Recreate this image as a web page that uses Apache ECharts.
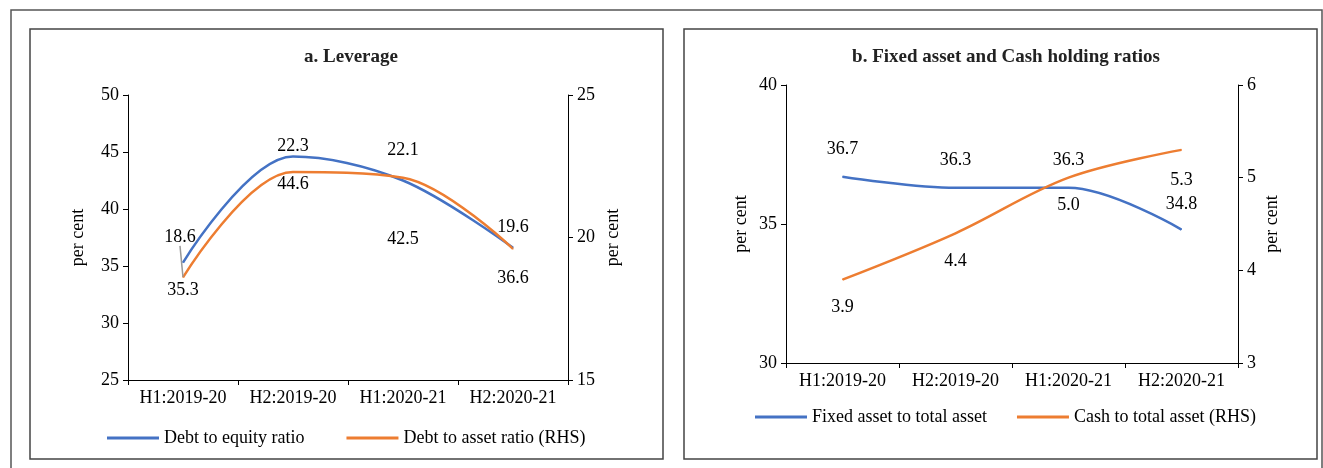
<!DOCTYPE html>
<html>
<head>
<meta charset="utf-8">
<script src="https://cdn.jsdelivr.net/npm/echarts@6/dist/echarts.min.js"></script>
<style>
    html, body {margin: 0; padding: 0; background: #fff;}
    #main {width: 1323px; height: 468px;}
</style>
</head>
<body>
<div id="main"></div>
<script>
// categories (both panels)
var halves = ['H1:2019-20', 'H2:2019-20', 'H1:2020-21', 'H2:2020-21'];

// panel a: leverage
var debtToEquity = [35.3, 44.6, 42.5, 36.6];
var debtToAsset = [18.6, 22.3, 22.1, 19.6];   // RHS

// panel b: fixed asset and cash holding
var fixedToTotal = [36.7, 36.3, 36.3, 34.8];
var cashToTotal = [3.9, 4.4, 5.0, 5.3];       // RHS

// label nudges [dx, dy] per point, by series order
var labelShift = [
    [[0, 0], [0, 0], [0, 31], [0, 3]],
    [[-3, -13], [0, 2], [0, 0], [0, 6]],
    [[0, 0], [0, 0], [0, 0], [0, 2]],
    [[0, 0], [0, 0], [0, 0], [0, 3]]
];

var BLUE = '#4472C4', ORANGE = '#ED7D31';
var FONT = '"Liberation Serif", "Times New Roman", serif';

function yAxis(grid, pos, min, max, step, gap) {
    return {
        type: 'value', gridIndex: grid, position: pos,
        min: min, max: max, interval: step,
        name: 'per cent', nameLocation: 'middle', nameGap: gap, nameRotate: 90,
        nameTextStyle: {color: '#000', fontSize: 18, fontFamily: FONT},
        axisLine: {show: true, lineStyle: {color: '#000', width: 1}},
        axisTick: {show: true, length: 5, lineStyle: {color: '#000'}},
        axisLabel: {color: '#000', fontSize: 18, fontFamily: FONT, margin: 9},
        splitLine: {show: false}
    };
}

function xAxis(grid) {
    return {
        type: 'category', gridIndex: grid, data: halves, boundaryGap: true,
        axisLine: {lineStyle: {color: '#000', width: 1}},
        axisTick: {show: true, length: 5, interval: 0, lineStyle: {color: '#000'}},
        axisLabel: {color: '#000', fontSize: 18, fontFamily: FONT, margin: 9, interval: 0}
    };
}

function line(name, data, xi, yi, color, pos) {
    return {
        name: name, type: 'line', xAxisIndex: xi, yAxisIndex: yi,
        data: data, smooth: 0.35, symbol: 'circle', symbolSize: 1, showSymbol: true,
        lineStyle: {color: color, width: 2.5},
        itemStyle: {color: color},
        label: {show: true, position: pos, distance: 18, color: '#000',
            fontSize: 18, fontFamily: FONT,
            formatter: function (p) { return Number(p.value).toFixed(1); }},
        labelLine: {show: false, lineStyle: {color: '#999', width: 1.5}}
    };
}

var s1 = line('Debt to equity ratio', debtToEquity, 0, 0, BLUE, 'bottom');
var s2 = line('Debt to asset ratio (RHS)', debtToAsset, 0, 1, ORANGE, 'top');
// first label sits apart with a leader line
s2.data = debtToAsset.map(function (v, i) {
    return i === 0 ? {value: v, labelLine: {show: true}} : v;
});
var s3 = line('Fixed asset to total asset', fixedToTotal, 1, 2, BLUE, 'top');
var s4 = line('Cash to total asset (RHS)', cashToTotal, 1, 3, ORANGE, 'bottom');

var seriesList = [s1, s2, s3, s4];
seriesList.forEach(function (s, si) {
    s.labelLayout = function (p) {
        var d = labelShift[si][p.dataIndex];
        return {dx: d[0], dy: d[1]};
    };
});

var legendBase = {
    icon: 'rect', itemWidth: 52, itemHeight: 3,
    textStyle: {fontSize: 18, fontFamily: FONT, color: '#000'}
};

var myChart = echarts.init(document.getElementById('main'));
myChart.setOption({
    backgroundColor: '#fff',
    animation: false,
    title: [{
        text: 'a. Leverage', left: 346, top: 43, textAlign: 'center',
        textStyle: {fontSize: 19, fontWeight: 'bold', fontFamily: FONT, color: '#222'}
    }, {
        text: 'b. Fixed asset and Cash holding ratios', left: 1001, top: 43, textAlign: 'center',
        textStyle: {fontSize: 19, fontWeight: 'bold', fontFamily: FONT, color: '#222'}
    }],
    legend: [
        Object.assign({}, legendBase, {
            data: ['Debt to equity ratio', 'Debt to asset ratio (RHS)'],
            left: 102, top: 424, itemGap: 42
        }),
        Object.assign({}, legendBase, {
            data: ['Fixed asset to total asset', 'Cash to total asset (RHS)'],
            left: 750, top: 403, itemGap: 30
        })
    ],
    graphic: [
        {type: 'rect', shape: {x: 11, y: 10, width: 1311, height: 470},
            style: {fill: 'none', stroke: '#555', lineWidth: 1.5}, silent: true},
        {type: 'rect', shape: {x: 30, y: 29, width: 633, height: 430},
            style: {fill: 'none', stroke: '#444', lineWidth: 1.5}, silent: true},
        {type: 'rect', shape: {x: 684, y: 29, width: 633, height: 430},
            style: {fill: 'none', stroke: '#444', lineWidth: 1.5}, silent: true}
    ],
    grid: [
        {left: 128, right: 755, top: 95, bottom: 88},
        {left: 786, right: 85, top: 85, bottom: 105}
    ],
    xAxis: [xAxis(0), xAxis(1)],
    yAxis: [
        yAxis(0, 'left', 25, 50, 5, 41),
        yAxis(0, 'right', 15, 25, 5, 36),
        yAxis(1, 'left', 30, 40, 5, 36),
        yAxis(1, 'right', 3, 6, 1, 25)
    ],
    series: seriesList
});
</script>
</body>
</html>
